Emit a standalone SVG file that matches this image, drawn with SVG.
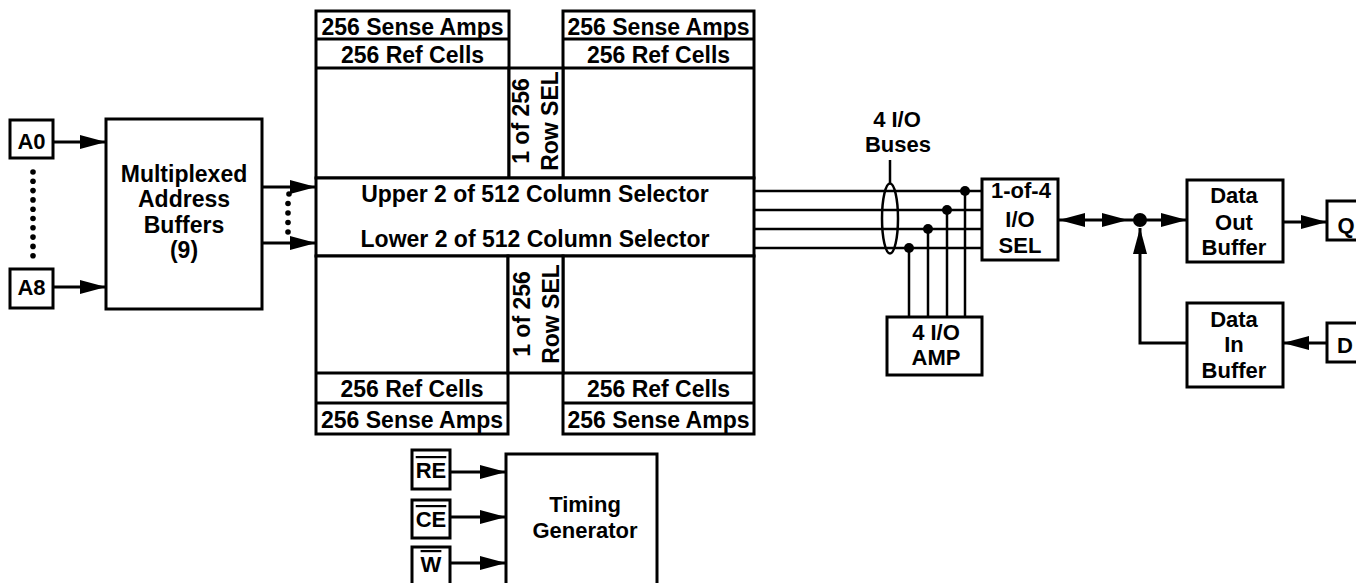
<svg xmlns="http://www.w3.org/2000/svg" width="1356" height="583" viewBox="0 0 1356 583">
<style>
.bx{fill:#fff;stroke:#000;stroke-width:3}
.ln{fill:none;stroke:#000;stroke-width:3}
.bus{fill:none;stroke:#000;stroke-width:2.5}
.t{font-family:"Liberation Sans",Arial,sans-serif;font-weight:bold;font-size:22px;fill:#000;text-anchor:middle}
.ta{font-size:23px}
.ov{text-decoration:overline}
</style>
<defs>
<marker id="arr" markerUnits="userSpaceOnUse" markerWidth="26" markerHeight="14" refX="26" refY="7" orient="auto-start-reverse" viewBox="0 0 26 14">
<path d="M0,0 L26,7 L0,14 Z" fill="#000"/>
</marker>
</defs>
<rect width="1356" height="583" fill="#fff"/>

<g id="connectors">
<line class="ln" x1="53" y1="142" x2="106" y2="142" marker-end="url(#arr)"/>
<line class="ln" x1="53" y1="287" x2="106" y2="287" marker-end="url(#arr)"/>
<line class="ln" x1="262" y1="187" x2="316" y2="187" marker-end="url(#arr)"/>
<line class="ln" x1="262" y1="243" x2="316" y2="243" marker-end="url(#arr)"/>
<g fill="#000">
<circle cx="33" cy="172" r="2.8"/><circle cx="33" cy="181.3" r="2.8"/><circle cx="33" cy="190.6" r="2.8"/><circle cx="33" cy="199.9" r="2.8"/><circle cx="33" cy="209.2" r="2.8"/><circle cx="33" cy="218.5" r="2.8"/><circle cx="33" cy="227.8" r="2.8"/><circle cx="33" cy="237.1" r="2.8"/><circle cx="33" cy="246.4" r="2.8"/><circle cx="33" cy="255.7" r="2.8"/>
<circle cx="289" cy="194" r="2.8"/><circle cx="288" cy="203.5" r="2.8"/><circle cx="288" cy="213" r="2.8"/><circle cx="288" cy="222.5" r="2.8"/><circle cx="288" cy="232" r="2.8"/>
</g>
<line class="bus" x1="754" y1="191" x2="982" y2="191"/>
<line class="bus" x1="754" y1="210" x2="982" y2="210"/>
<line class="bus" x1="754" y1="229" x2="982" y2="229"/>
<line class="bus" x1="754" y1="248" x2="982" y2="248"/>
<ellipse cx="890" cy="218.5" rx="8" ry="35" class="bus"/>
<line class="bus" x1="890" y1="183.5" x2="890" y2="160"/>
<line class="bus" x1="965" y1="191" x2="965" y2="317"/>
<line class="bus" x1="947" y1="210" x2="947" y2="317"/>
<line class="bus" x1="928" y1="229" x2="928" y2="317"/>
<line class="bus" x1="909" y1="248" x2="909" y2="317"/>
<g fill="#000">
<circle cx="965" cy="191" r="5"/><circle cx="947" cy="210" r="5"/><circle cx="928" cy="229" r="5"/><circle cx="909" cy="248" r="5"/>
</g>
<line class="ln" x1="1059" y1="220" x2="1128" y2="220" marker-start="url(#arr)" marker-end="url(#arr)"/>
<line class="ln" x1="1128" y1="220" x2="1140" y2="220"/>
<line class="ln" x1="1140" y1="220" x2="1187" y2="220" marker-end="url(#arr)"/>
<circle cx="1140" cy="220" r="7" fill="#000"/>
<polyline class="ln" points="1187,343 1140,343 1140,228" marker-end="url(#arr)"/>
<line class="ln" x1="1283" y1="222" x2="1327" y2="222" marker-end="url(#arr)"/>
<line class="ln" x1="1327" y1="343" x2="1283" y2="343" marker-end="url(#arr)"/>
<line class="ln" x1="450" y1="472" x2="506" y2="472" marker-end="url(#arr)"/>
<line class="ln" x1="450" y1="517" x2="506" y2="517" marker-end="url(#arr)"/>
<line class="ln" x1="450" y1="563" x2="506" y2="563" marker-end="url(#arr)"/>
</g>

<g id="A0"><rect class="bx" x="10" y="120" width="43" height="38"/><text class="t" x="31.5" y="149">A0</text></g>
<g id="A8"><rect class="bx" x="10" y="269" width="43" height="39"/><text class="t" x="31.5" y="295">A8</text></g>
<g id="mux"><rect class="bx" x="106" y="119" width="156" height="190"/>
<text class="t ta" x="184" y="182">Multiplexed</text>
<text class="t ta" x="184" y="207">Address</text>
<text class="t ta" x="184" y="233">Buffers</text>
<text class="t ta" x="184" y="258">(9)</text></g>

<g id="array-top-left"><rect class="bx" x="316" y="11" width="193" height="167"/>
<line class="ln" x1="316" y1="39" x2="509" y2="39"/><line class="ln" x1="316" y1="68" x2="509" y2="68"/>
<text class="t ta" x="412.5" y="35">256 Sense Amps</text>
<text class="t ta" x="412.5" y="63">256 Ref Cells</text></g>
<g id="array-top-right"><rect class="bx" x="563" y="11" width="191" height="167"/>
<line class="ln" x1="563" y1="39" x2="754" y2="39"/><line class="ln" x1="563" y1="68" x2="754" y2="68"/>
<text class="t ta" x="658.5" y="35">256 Sense Amps</text>
<text class="t ta" x="658.5" y="63">256 Ref Cells</text></g>
<g id="rowsel-top"><rect class="bx" x="509" y="68" width="54" height="110"/>
<text class="t ta" transform="translate(529,121) rotate(-90)">1 of 256</text>
<text class="t ta" transform="translate(558,121) rotate(-90)">Row SEL</text></g>
<g id="colsel"><rect class="bx" x="316" y="178" width="438" height="78"/>
<text class="t ta" x="535" y="202">Upper 2 of 512 Column Selector</text>
<text class="t ta" x="535" y="247">Lower 2 of 512 Column Selector</text></g>
<g id="array-bottom-left"><rect class="bx" x="316" y="256" width="192" height="178"/>
<line class="ln" x1="316" y1="373" x2="508" y2="373"/><line class="ln" x1="316" y1="403" x2="508" y2="403"/>
<text class="t ta" x="412" y="397">256 Ref Cells</text>
<text class="t ta" x="412" y="428">256 Sense Amps</text></g>
<g id="array-bottom-right"><rect class="bx" x="563" y="256" width="191" height="178"/>
<line class="ln" x1="563" y1="373" x2="754" y2="373"/><line class="ln" x1="563" y1="403" x2="754" y2="403"/>
<text class="t ta" x="658.5" y="397">256 Ref Cells</text>
<text class="t ta" x="658.5" y="428">256 Sense Amps</text></g>
<g id="rowsel-bottom"><rect class="bx" x="508" y="256" width="55" height="117"/>
<text class="t ta" transform="translate(530,314) rotate(-90)">1 of 256</text>
<text class="t ta" transform="translate(559,314) rotate(-90)">Row SEL</text></g>

<g id="buses-label"><text class="t" x="897" y="127">4 I/O</text><text class="t" x="898" y="152">Buses</text></g>
<g id="ioamp"><rect class="bx" x="887" y="317" width="95" height="58"/>
<text class="t" x="936" y="340">4 I/O</text><text class="t" x="936" y="365">AMP</text></g>
<g id="iosel"><rect class="bx" x="982" y="179" width="76" height="81"/>
<text class="t" x="1021" y="198">1-of-4</text><text class="t" x="1020" y="227">I/O</text><text class="t" x="1020" y="253">SEL</text></g>
<g id="dataout"><rect class="bx" x="1187" y="180" width="96" height="82"/>
<text class="t" x="1234" y="203">Data</text><text class="t" x="1234" y="230">Out</text><text class="t" x="1234" y="255">Buffer</text></g>
<g id="datain"><rect class="bx" x="1187" y="303" width="96" height="84"/>
<text class="t" x="1234" y="327">Data</text><text class="t" x="1234" y="352">In</text><text class="t" x="1234" y="378">Buffer</text></g>
<g id="Q"><rect class="bx" x="1327" y="201" width="40" height="39"/><text class="t" x="1346" y="233">Q</text></g>
<g id="D"><rect class="bx" x="1327" y="323" width="40" height="39"/><text class="t" x="1345" y="353">D</text></g>

<g id="RE"><rect class="bx" x="412" y="450" width="38" height="39"/><text class="t" x="431" y="478"><tspan class="ov">RE</tspan></text></g>
<g id="CE"><rect class="bx" x="412" y="500" width="38" height="38"/><text class="t" x="431" y="527"><tspan class="ov">CE</tspan></text></g>
<g id="W"><rect class="bx" x="412" y="547" width="38" height="50"/><text class="t" x="431" y="572"><tspan class="ov">W</tspan></text></g>
<g id="timing"><rect class="bx" x="506" y="454" width="151" height="150"/>
<text class="t" x="585" y="512">Timing</text><text class="t" x="585" y="538">Generator</text></g>
</svg>
